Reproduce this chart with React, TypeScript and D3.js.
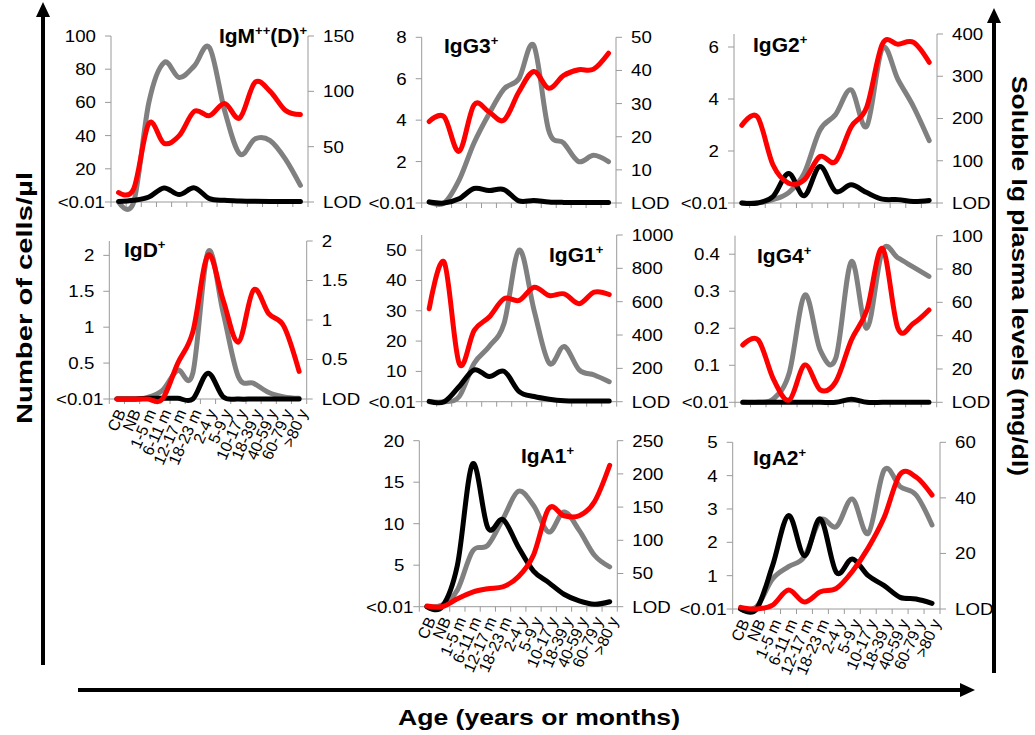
import React from "react";
import * as d3 from "d3";

const ages = ["CB", "NB", "1-5 m", "6-11 m", "12-17 m", "18-23 m", "2-4 y", "5-9 y", "10-17 y", "18-39 y", "40-59 y", "60-79 y", ">80 y"];

// grey and black: cells/µl (left axis); red: soluble Ig mg/dl (right axis)
const igmGrey = [0, 0, 60, 84, 75, 82, 93, 55, 29, 38, 37, 26, 10];
const igmBlack = [0.3, 1, 3, 8.5, 4.5, 8.5, 2, 1, 0.6, 0.4, 0.3, 0.3, 0.3];
const igmSerum = [8.5, 12, 71, 53, 60, 82, 78, 89, 76, 108, 100, 83, 79];

const igg3Grey = [0.05, 0, 1.1, 2.9, 4.3, 5.5, 6.0, 7.6, 3.5, 2.9, 2.0, 2.3, 2.0];
const igg3Black = [0.05, 0, 0.2, 0.7, 0.6, 0.65, 0.1, 0.12, 0.05, 0.03, 0.03, 0.03, 0.03];
const igg3Serum = [24.6, 26, 15.6, 29.6, 27.5, 25, 33.5, 39.7, 34.6, 38.5, 40.2, 40.4, 45.2];

const igg2Grey = [0, 0, 0.13, 0.4, 1.15, 2.8, 3.4, 4.35, 2.95, 5.95, 4.75, 3.7, 2.4];
const igg2Black = [0, 0, 0.25, 1.13, 0.28, 1.4, 0.45, 0.7, 0.4, 0.15, 0.13, 0.06, 0.1];
const igg2Serum = [184, 204, 90, 47, 55, 110, 98, 180, 227, 376, 376, 380, 333];

const igdGrey = [0, 0, 0.02, 0.12, 0.4, 0.36, 2.05, 1.2, 0.31, 0.22, 0.09, 0.03, 0.01];
const igdBlack = [0, 0, 0.01, 0.01, 0.01, 0, 0.36, 0.03, 0, 0, 0, 0, 0];
const igdSerum = [0, 0, 0, 0, 0.45, 0.85, 1.82, 1.25, 0.72, 1.38, 1.08, 0.92, 0.35];

const igg1Grey = [0, 0, 1.7, 12.7, 18.2, 26, 50, 30, 12.7, 18.2, 10.5, 8.8, 6.6];
const igg1Black = [0.1, 0, 5, 10.5, 8.3, 10, 3.3, 1.7, 0.8, 0.3, 0.2, 0.2, 0.2];
const igg1Serum = [558, 837, 229, 428, 508, 618, 608, 687, 637, 647, 588, 657, 643];

const igg4Grey = [0, 0, 0.01, 0.08, 0.29, 0.14, 0.12, 0.38, 0.2, 0.41, 0.39, 0.365, 0.34];
const igg4Black = [0, 0, 0, 0, 0, 0, 0, 0.008, 0, 0, 0, 0, 0];
const igg4Serum = [34.4, 37.4, 13.4, 1.4, 22.4, 7.4, 12.4, 37.4, 55.4, 92.4, 44.4, 47.4, 55.4];

const iga1Grey = [0, 0.2, 2, 6.7, 7.4, 10.6, 13.9, 12.2, 9, 11.4, 9.2, 6.2, 4.8];
const iga1Black = [0, 0, 5, 17.2, 9.5, 10.5, 7.2, 4.3, 2.9, 1.5, 0.7, 0.3, 0.6];
const iga1Serum = [1, 0, 12, 22, 27, 30, 45, 78, 148, 137, 137, 158, 213];

const iga2Grey = [0, 0.07, 0.9, 1.27, 1.57, 2.67, 2.47, 3.3, 2.27, 4.17, 3.67, 3.42, 2.52];
const iga2Black = [0, 0, 1.3, 2.8, 1.6, 2.7, 1.1, 1.5, 1.0, 0.7, 0.35, 0.3, 0.17];
const iga2Serum = [0.6, 0, 1.4, 6.8, 2.5, 6.2, 7.4, 13.5, 22, 33, 48.5, 47.5, 41];

const FONT = "'Liberation Sans', Arial, Helvetica, sans-serif";

type Part = [string, boolean];

const panels = [
  { title: [["IgM", false], ["++", true], ["(D)", false], ["+", true]] as Part[], tx: 307, ty: 43, anchor: "end",
    grey: igmGrey, black: igmBlack, serum: igmSerum,
    x0: 111, x1: 308, base: 202, top: 36, leftMax: 100, rightMax: 150,
    leftTicks: [20, 40, 60, 80, 100], rightTicks: [50, 100, 150], xLabels: false },
  { title: [["IgG3", false], ["+", true]] as Part[], tx: 444, ty: 53, anchor: "start",
    grey: igg3Grey, black: igg3Black, serum: igg3Serum,
    x0: 421.7, x1: 616, base: 203, top: 37.3, leftMax: 8, rightMax: 50,
    leftTicks: [2, 4, 6, 8], rightTicks: [10, 20, 30, 40, 50], xLabels: false },
  { title: [["IgG2", false], ["+", true]] as Part[], tx: 753, ty: 52, anchor: "start",
    grey: igg2Grey, black: igg2Black, serum: igg2Serum,
    x0: 734, x1: 937, base: 203, top: 34, leftMax: 6.5, rightMax: 400,
    leftTicks: [2, 4, 6], rightTicks: [100, 200, 300, 400], xLabels: false },
  { title: [["IgD", false], ["+", true]] as Part[], tx: 124, ty: 257, anchor: "start",
    grey: igdGrey, black: igdBlack, serum: igdSerum,
    x0: 109.3, x1: 306.7, base: 399, top: 241, leftMax: 2.2, rightMax: 2,
    leftTicks: [0.5, 1, 1.5, 2], rightTicks: [0.5, 1, 1.5, 2], xLabels: true },
  { title: [["IgG1", false], ["+", true]] as Part[], tx: 549, ty: 262, anchor: "start",
    grey: igg1Grey, black: igg1Black, serum: igg1Serum,
    x0: 421.7, x1: 616.7, base: 401.7, top: 235, leftMax: 55, rightMax: 1000,
    leftTicks: [10, 20, 30, 40, 50], rightTicks: [200, 400, 600, 800, 1000], xLabels: false },
  { title: [["IgG4", false], ["+", true]] as Part[], tx: 757, ty: 263, anchor: "start",
    grey: igg4Grey, black: igg4Black, serum: igg4Serum,
    x0: 735, x1: 936.7, base: 402.3, top: 235.7, leftMax: 0.45, rightMax: 100,
    leftTicks: [0.1, 0.2, 0.3, 0.4], rightTicks: [20, 40, 60, 80, 100], xLabels: false },
  { title: [["IgA1", false], ["+", true]] as Part[], tx: 521, ty: 463, anchor: "start",
    grey: iga1Grey, black: iga1Black, serum: iga1Serum,
    x0: 419.3, x1: 617.3, base: 606.7, top: 440.7, leftMax: 20, rightMax: 250,
    leftTicks: [5, 10, 15, 20], rightTicks: [50, 100, 150, 200, 250], xLabels: true },
  { title: [["IgA2", false], ["+", true]] as Part[], tx: 753, ty: 465, anchor: "start",
    grey: iga2Grey, black: iga2Black, serum: iga2Serum,
    x0: 732.7, x1: 940, base: 609, top: 442.3, leftMax: 5, rightMax: 60,
    leftTicks: [1, 2, 3, 4, 5], rightTicks: [20, 40, 60], xLabels: true },
];

type PanelDef = typeof panels[number];

function Label({ x, y, anchor, children }: any) {
  return (
    <text transform={`translate(${x},${y}) scale(1.1,1)`} textAnchor={anchor} dy="0.35em"
      fontSize={17} fill="#000">{children}</text>
  );
}

function Panel({ p }: { p: PanelDef }) {
  const band = d3.scaleBand().domain(ages).range([p.x0, p.x1]);
  const xs = d3.scalePoint().domain(ages).range([p.x0, p.x1]).padding(0.5);
  const yL = d3.scaleLinear().domain([0, p.leftMax]).range([p.base, p.top]);
  const yR = d3.scaleLinear().domain([0, p.rightMax]).range([p.base, p.top]);
  const path = (vals: number[], y: d3.ScaleLinear<number, number>) =>
    d3.line<number>()
      .x((_, i) => xs(ages[i]) as number)
      .y((v) => y(v))
      .curve(d3.curveCardinal.tension(0))(vals) as string;
  const bounds = [...ages.map((a) => band(a) as number), p.x1];
  const axisCol = "#9a9a9a";

  return (
    <g>
      {/* axes */}
      <line x1={p.x0} x2={p.x0} y1={p.top} y2={p.base} stroke={axisCol} />
      <line x1={p.x1} x2={p.x1} y1={p.top} y2={p.base} stroke={axisCol} />
      <line x1={p.x0} x2={p.x1} y1={p.base} y2={p.base} stroke={axisCol} />
      {bounds.map((b, i) => (
        <line key={"xt" + i} x1={b} x2={b} y1={p.base} y2={p.base + 5} stroke={axisCol} />
      ))}
      {[0, ...p.leftTicks].map((t) => (
        <line key={"lt" + t} x1={p.x0 - 6} x2={p.x0} y1={yL(t)} y2={yL(t)} stroke={axisCol} />
      ))}
      {[0, ...p.rightTicks].map((t) => (
        <line key={"rt" + t} x1={p.x1} x2={p.x1 + 6} y1={yR(t)} y2={yR(t)} stroke={axisCol} />
      ))}
      {p.leftTicks.map((t) => (
        <Label key={"ll" + t} x={p.x0 - 15} y={yL(t)} anchor="end">{String(t)}</Label>
      ))}
      <Label x={p.x0 - 6} y={yL(0)} anchor="end">{"<0.01"}</Label>
      {p.rightTicks.map((t) => (
        <Label key={"rl" + t} x={p.x1 + 15} y={yR(t)} anchor="start">{String(t)}</Label>
      ))}
      <Label x={p.x1 + 15} y={yR(0)} anchor="start">LOD</Label>
      {p.xLabels &&
        ages.map((a) => (
          <text key={"xl" + a}
            transform={`translate(${(xs(a) as number) + 4},${p.base + 11}) rotate(-66)`}
            textAnchor="end" dy="0.35em" fontSize={16}>{a}</text>
        ))}

      {/* series */}
      <path d={path(p.grey, yL)} fill="none" stroke="#808080" strokeWidth={5} strokeLinecap="round" strokeLinejoin="round" />
      <path d={path(p.black, yL)} fill="none" stroke="#000" strokeWidth={5} strokeLinecap="round" strokeLinejoin="round" />
      <path d={path(p.serum, yR)} fill="none" stroke="#ff0000" strokeWidth={5} strokeLinecap="round" strokeLinejoin="round" />

      {/* title */}
      <text x={p.tx} y={p.ty} textAnchor={p.anchor as any} fontSize={21} fontWeight="bold">
        {p.title.map(([s, sup], i) => {
          const prevSup = i > 0 && p.title[i - 1][1];
          const dy = sup ? -8 : prevSup ? 8 : 0;
          return (
            <tspan key={i} fontSize={sup ? 13 : 21} dy={dy}>{s}</tspan>
          );
        })}
      </text>
    </g>
  );
}

export default function App() {
  return (
    <svg width={1035} height={735} style={{ position: "absolute", left: 0, top: 0, background: "#fff" }}
      fontFamily={FONT}>
      <rect width={1035} height={735} fill="#fff" />
      {panels.map((p, i) => (
        <Panel key={i} p={p} />
      ))}

      {/* outer arrows */}
      <line x1={43} x2={43} y1={665} y2={14} stroke="#000" strokeWidth={4} />
      <polygon points="36,17 50,17 43,2" fill="#000" />
      <line x1={994} x2={994} y1={673} y2={20} stroke="#000" strokeWidth={4} />
      <polygon points="987,23 1001,23 994,8" fill="#000" />
      <line x1={78} x2={962} y1={690} y2={690} stroke="#000" strokeWidth={4} />
      <polygon points="960,683 960,697 975,690" fill="#000" />

      <text transform="translate(32,298) rotate(-90)" textAnchor="middle" fontSize={22} fontWeight="bold"
        textLength={252} lengthAdjust="spacingAndGlyphs">Number of cells/µl</text>
      <text transform="translate(1012,276) rotate(90)" textAnchor="middle" fontSize={22} fontWeight="bold"
        textLength={400} lengthAdjust="spacingAndGlyphs">Soluble Ig plasma levels (mg/dl)</text>
      <text x={539} y={725} textAnchor="middle" fontSize={22} fontWeight="bold"
        textLength={282} lengthAdjust="spacingAndGlyphs">Age (years or months)</text>
    </svg>
  );
}
